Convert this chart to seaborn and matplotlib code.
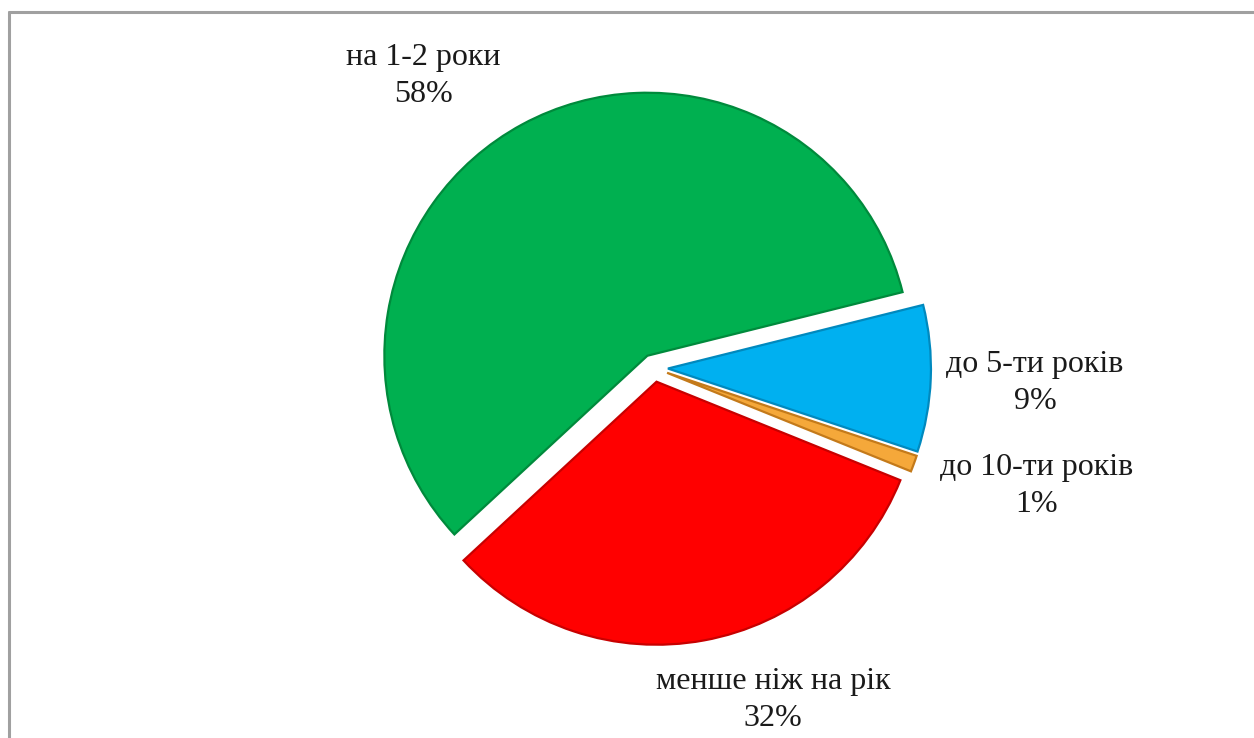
import matplotlib
matplotlib.use("Agg")
import matplotlib.pyplot as plt
import seaborn as sns
from matplotlib.lines import Line2D

# data, clockwise from the top-right
labels = ["до 5-ти років", "до 10-ти років", "менше ніж на рік", "на 1-2 роки"]
shares = [9, 1, 32, 58]
colors = ["#00B0F0", "#F5A83A", "#FF0000", "#00B050"]
edges = ["#0089BE", "#C47A1A", "#C80000", "#008A3C"]

# where each label block sits (figure pixels, centre of text)
label_px = [(1035, 383), (1037, 486), (773, 700), (423, 76)]

W, H = 1254, 738
cx, cy, R = 654, 368, 263   # pie centre and radius in pixels

sns.set_theme(style="white")
plt.rcParams["font.family"] = ["Liberation Serif", "DejaVu Serif"]

fig = plt.figure(figsize=(W / 100, H / 100), dpi=100)
ax = fig.add_axes([0, 0, 1, 1])

wedges, _ = ax.pie(shares, colors=colors, startangle=14, counterclock=False,
                   explode=[0.053] * len(shares),
                   wedgeprops=dict(linewidth=1.6))
for w, ec in zip(wedges, edges):
    w.set_edgecolor(ec)

ax.set_xlim(-cx / R, (W - cx) / R)
ax.set_ylim(-(H - cy) / R, cy / R)
ax.set_aspect("equal")
ax.axis("off")

for lab, val, (px, py) in zip(labels, shares, label_px):
    fig.text(px / W, 1 - py / H, f"{lab}\n{val}%", ha="center", va="center",
             fontsize=23, color="#1a1a1a", linespacing=1.35)

# the cropped frame: only top and left edges are visible
top = 1 - 12 / H
left = 9 / W
fig.add_artist(Line2D([left, 1], [top, top], transform=fig.transFigure,
                      color="#A0A0A0", lw=2.2))
fig.add_artist(Line2D([left, left], [0, top], transform=fig.transFigure,
                      color="#A0A0A0", lw=2.2))

fig.savefig("out.png", dpi=100, facecolor="white")
